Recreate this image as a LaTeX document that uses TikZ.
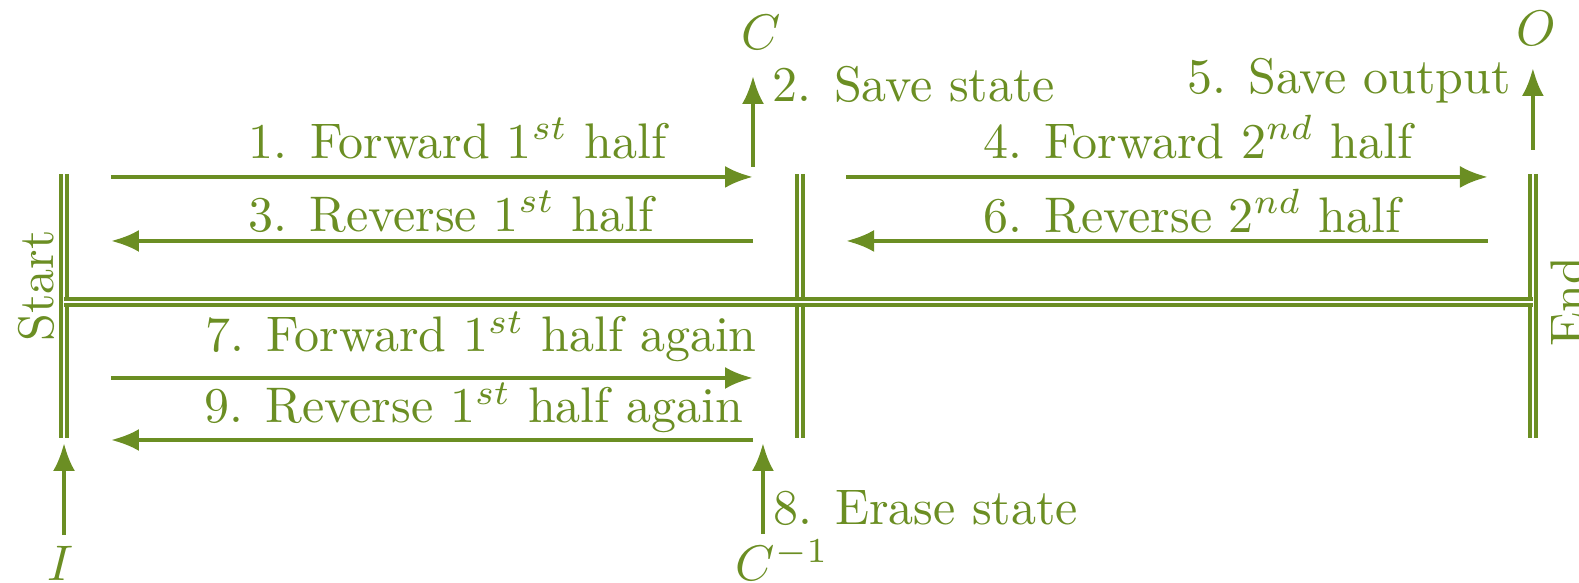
\documentclass[tikz,border=0pt]{standalone}
\usetikzlibrary{arrows.meta}

\definecolor{myolive}{RGB}{107,142,35}

\begin{document}
\begin{tikzpicture}[arrow/.style={thick,-{Latex[length=5.6pt,width=4.4pt]},myolive},
            track/.style={double,line width=0.7pt,double distance=0.5pt,myolive},
            every node/.style={inner sep=0pt,text=myolive}
         ]
      \useasboundingbox (0,0) rectangle (11.099,4.098);

      % the three posts and the track between them
      \coordinate (st) at (0.450, 2.875);  \coordinate (sb) at (0.450, 1.019);
      \coordinate (mt) at (5.623, 2.875);  \coordinate (mb) at (5.623, 1.019);
      \coordinate (et) at (10.775, 2.875); \coordinate (eb) at (10.775, 1.019);
      \coordinate (sl) at (0.450, 1.975);  \coordinate (el) at (10.775, 1.975);
      \draw[track] (st) -- (sb);
      \draw[track] (mt) -- (mb);
      \draw[track] (et) -- (eb);
      \draw[track] (sl) -- (el);

      \node[rotate=90,anchor=base] (start) at (0.373, 2.088) {Start};
      \node[rotate=90,anchor=base] (end) at (11.148, 1.975) {End};

      % steps
      \coordinate (a1) at (0.780, 2.854); \coordinate (b1) at (5.293, 2.854);
      \coordinate (a3) at (0.780, 2.404); \coordinate (b3) at (5.293, 2.404);
      \coordinate (a4) at (5.947, 2.854); \coordinate (b4) at (10.459, 2.854);
      \coordinate (a6) at (5.947, 2.404); \coordinate (b6) at (10.459, 2.404);
      \coordinate (a7) at (0.780, 1.441); \coordinate (b7) at (5.293, 1.441);
      \coordinate (a9) at (0.780, 1.005); \coordinate (b9) at (5.293, 1.005);
      \draw[arrow] (a1) -- (b1);
      \draw[arrow] (b3) -- (a3);
      \draw[arrow] (a4) -- (b4);
      \draw[arrow] (b6) -- (a6);
      \draw[arrow] (a7) -- (b7);
      \draw[arrow] (b9) -- (a9);

      \node[anchor=base] (l1) at (3.219, 2.987) {1. Forward 1$^{st}$ half};
      \node[anchor=base] (l3) at (3.170, 2.474) {3. Reverse 1$^{st}$ half};
      \node[anchor=base] (l4) at (8.421, 2.987) {4. Forward 2$^{nd}$ half};
      \node[anchor=base] (l6) at (8.379, 2.467) {6. Reverse 2$^{nd}$ half};
      \node[anchor=base] (l7) at (3.381, 1.624) {7. Forward 1$^{st}$ half again};
      \node[anchor=base] (l9) at (3.332, 1.125) {9. Reverse 1$^{st}$ half again};

      % states in and out
      \node (c) at (5.349, 3.869) {$C$};
      \node (o) at (10.796, 3.901) {$O$};
      \node[anchor=base] (i) at (0.422, 0.014) {$I$};
      \node[anchor=base west] (cinv) at (5.166, 0.014) {$C^{-1}$};
      \coordinate (c0) at (5.293, 2.924); \coordinate (c1) at (5.293, 3.564);
      \coordinate (o0) at (10.775, 3.044); \coordinate (o1) at (10.775, 3.620);
      \coordinate (i0) at (0.450, 0.337); \coordinate (i1) at (0.450, 0.984);
      \coordinate (k0) at (5.363, 0.344); \coordinate (k1) at (5.363, 0.984);
      \draw[arrow] (c0) -- (c1);
      \draw[arrow] (o0) -- (o1);
      \draw[arrow] (i0) -- (i1);
      \draw[arrow] (k0) -- (k1);

      \node[anchor=base west] (l2) at (5.426, 3.381) {2. Save state};
      \node[anchor=base east] (l5) at (10.628, 3.444) {5. Save output};
      \node[anchor=base west] (l8) at (5.433, 0.408) {8. Erase state};

   \end{tikzpicture}
\end{document}
